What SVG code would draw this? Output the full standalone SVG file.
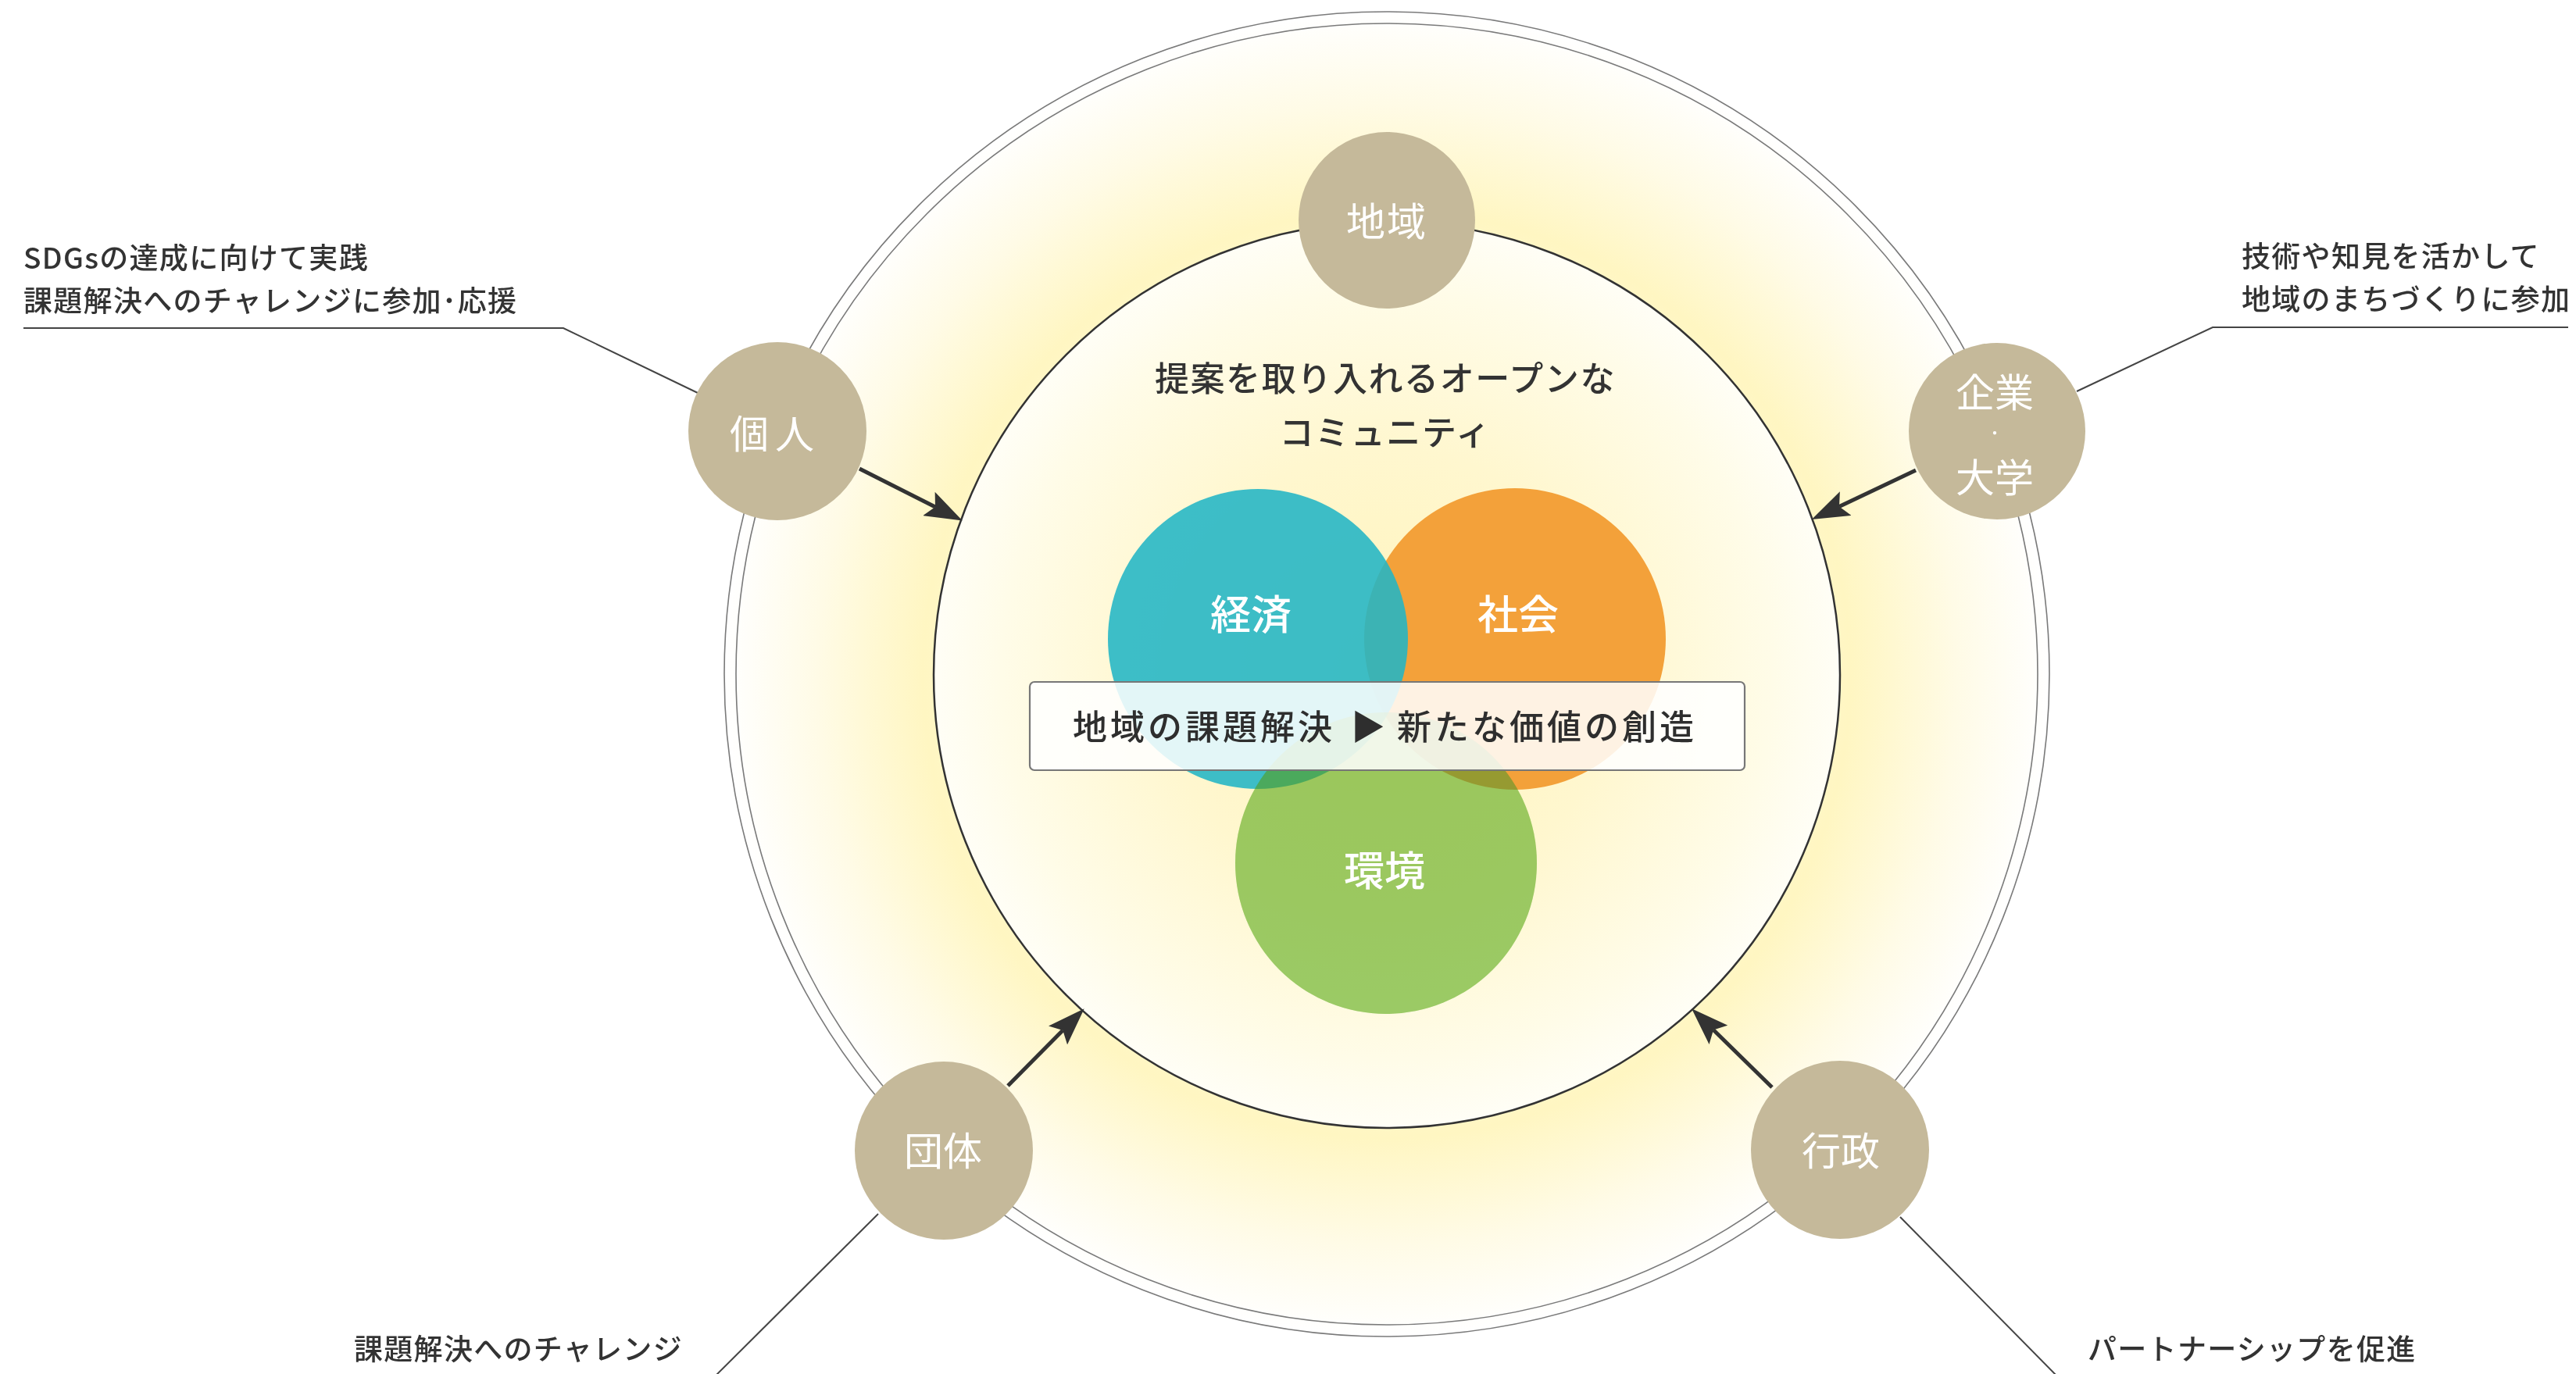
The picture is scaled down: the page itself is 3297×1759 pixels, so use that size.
<svg xmlns="http://www.w3.org/2000/svg" width="3297" height="1759" viewBox="0 0 3297 1759">
<style>
text{font-family:"Noto Sans CJK JP","Noto Sans",sans-serif;font-weight:500;}
.node circle{fill:#c5b99a;}
.nl{fill:#ffffff;font-size:50px;text-anchor:middle;dominant-baseline:central;font-weight:400;}
.vl{fill:#ffffff;font-size:52px;text-anchor:middle;dominant-baseline:central;}
.co{fill:#333333;font-size:37px;letter-spacing:1.3px;dominant-baseline:central;}
.ti{fill:#333333;font-size:44px;letter-spacing:1.6px;text-anchor:middle;dominant-baseline:central;}
.bx{fill:#2e2e2e;font-size:44px;letter-spacing:4px;dominant-baseline:central;}
.ring{fill:none;stroke:#7a7a7a;stroke-width:1.6;}
.callout{fill:none;stroke:#444444;stroke-width:2;}
.arrow{fill:none;stroke:#333333;stroke-width:5;marker-end:url(#ah);}
</style>
<defs>
<radialGradient id="gOuter" cx="1775" cy="863" r="848" gradientUnits="userSpaceOnUse">
<stop offset="0" stop-color="#fffbe0"/>
<stop offset="0.6" stop-color="#fff8cf"/>
<stop offset="0.7" stop-color="#fff6c2"/>
<stop offset="0.86" stop-color="#fffbe6"/>
<stop offset="1" stop-color="#ffffff"/>
</radialGradient>
<radialGradient id="gInner" cx="1775" cy="864" r="580" gradientUnits="userSpaceOnUse">
<stop offset="0" stop-color="#fff4bb"/>
<stop offset="0.5" stop-color="#fff7cf"/>
<stop offset="0.85" stop-color="#fffce8"/>
<stop offset="1" stop-color="#fffef6"/>
</radialGradient>
<marker id="ah" viewBox="0 0 48 34" refX="9" refY="17" markerWidth="48" markerHeight="34" markerUnits="userSpaceOnUse" orient="auto">
<path d="M0,0 L48,17 L0,34 L9,17 Z" fill="#333333"/>
</marker>
</defs>
<rect x="0" y="0" width="3297" height="1759" fill="#ffffff"/>
<g id="background">
<circle cx="1775" cy="863" r="848" fill="url(#gOuter)"/>
<circle class="ring" cx="1775" cy="863" r="848"/>
<circle class="ring" cx="1775" cy="863" r="833"/>
<circle cx="1775" cy="864" r="580" fill="url(#gInner)" stroke="#333333" stroke-width="2.5"/>
<text class="ti" x="1773" y="482">提案を取り入れるオープンな</text>
<text class="ti" x="1773" y="551">コミュニティ</text>
</g>
<g id="venn">
<g id="node-shakai"><circle cx="1939" cy="818" r="193" fill="#f3a13a"/><text class="vl" x="1943" y="783">社会</text></g>
<g id="node-keizai"><circle cx="1610" cy="818" r="192" fill="#22b5c5" opacity="0.88"/><text class="vl" x="1601" y="783">経済</text></g>
<g id="node-kankyo"><circle cx="1774" cy="1105" r="193" fill="#8dc55a" style="mix-blend-mode:multiply" opacity="0.8"/><circle cx="1774" cy="1105" r="193" fill="#8dc55a" opacity="0.35"/><text class="vl" x="1772" y="1111">環境</text></g>
</g>
<g id="node-box">
<rect x="1318" y="873" width="915" height="113" rx="6" fill="#ffffff" fill-opacity="0.86" stroke="#777777" stroke-width="2.2"/>
<text class="bx" x="1373" y="928">地域の課題解決</text>
<text class="bx" x="1751" y="928" style="text-anchor:middle;letter-spacing:0">▶</text>
<text class="bx" x="1788" y="928">新たな価値の創造</text>
</g>
<g id="connectors">
<polyline class="callout" points="30,420 721,420 893,503"/>
<polyline class="callout" points="2658,501 2832,419 3287,419"/>
<line class="callout" x1="1124" y1="1554" x2="912" y2="1765"/>
<line class="callout" x1="2432" y1="1558" x2="2637" y2="1766"/>
<line class="arrow" x1="1100" y1="600" x2="1197" y2="649"/>
<line class="arrow" x1="2452" y1="602" x2="2354" y2="648.4"/>
<line class="arrow" x1="1290" y1="1390" x2="1360.3" y2="1319"/>
<line class="arrow" x1="2268" y1="1392" x2="2193" y2="1318.5"/>
</g>
<g id="node-chiiki" class="node"><circle cx="1775" cy="282" r="113"/><text class="nl" x="1775" y="280" style="letter-spacing:2px">地域</text></g>
<g id="node-kojin" class="node"><circle cx="995" cy="552" r="114"/><text class="nl" x="992" y="552" style="letter-spacing:8px">個人</text></g>
<g id="node-kigyo" class="node"><circle cx="2556" cy="552" r="113"/><text class="nl" x="2553" y="499">企業</text><text class="nl" x="2553" y="553" style="font-size:20px">・</text><text class="nl" x="2553" y="608">大学</text></g>
<g id="node-dantai" class="node"><circle cx="1208" cy="1473" r="114"/><text class="nl" x="1207" y="1470">団体</text></g>
<g id="node-gyosei" class="node"><circle cx="2355" cy="1472" r="114"/><text class="nl" x="2356" y="1470">行政</text></g>
<g id="labels">
<text class="co" x="30" y="328">SDGsの達成に向けて実践</text>
<text class="co" x="30" y="383">課題解決へのチャレンジに参加･応援</text>
<text class="co" x="2869" y="326">技術や知見を活かして</text>
<text class="co" x="2869" y="381">地域のまちづくりに参加</text>
<text class="co" x="453" y="1725">課題解決へのチャレンジ</text>
<text class="co" x="2672" y="1725">パートナーシップを促進</text>
</g>
</svg>
